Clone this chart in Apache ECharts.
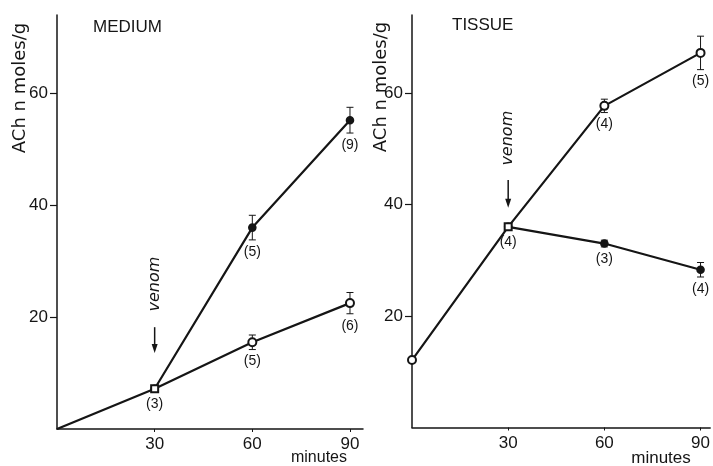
<!DOCTYPE html>
<html>
<head>
<meta charset="utf-8">
<script src="https://cdn.jsdelivr.net/npm/echarts@6.0.0/dist/echarts.min.js"></script>
<style>
html,body{margin:0;padding:0;background:#fff;}
#chart{width:713px;height:466px;}
</style>
</head>
<body>
<div id="chart"></div>
<script>
// ---- data ----
const minutes = [0, 30, 60, 90];
const venomMinutes = [30, 60, 90];
const xTicks = [30, 60, 90];
const yTicks = [20, 40, 60];

// MEDIUM panel
const mediumControl = [0, 7.2, 15.5, 22.5];
const mediumControlErr = [0, 0, 1.3, 1.9];
const mediumControlN = [null, 3, 5, 6];
const mediumVenom = [7.2, 36.0, 55.2];
const mediumVenomErr = [0, 2.2, 2.3];
const mediumVenomN = [null, 5, 9];

// TISSUE panel
const tissueControl = [12.1, 36.0, 57.7, 67.2];
const tissueControlErr = [0, 0, 1.2, 3.0];
const tissueControlN = [null, 4, 4, 5];
const tissueVenom = [36.0, 33.0, 28.3];
const tissueVenomErr = [0, 0.6, 1.3];
const tissueVenomN = [null, 3, 4];

const INK = '#151515';
const FONT = 'Liberation Sans';
const NAMEFONT = 'DejaVu Sans';

const chart = echarts.init(document.getElementById('chart'), null, {renderer: 'canvas'});

function lineData(xs, ys, firstSymbol) {
  return xs.map((x, i) => {
    const item = {value: [x, ys[i]]};
    if (i === 0 && firstSymbol) item.symbol = firstSymbol;
    return item;
  });
}
function errData(xs, ys, errs) {
  const out = [];
  xs.forEach((x, i) => { if (errs[i] > 0) out.push([x, ys[i] - errs[i], ys[i] + errs[i]]); });
  return out;
}
function countData(xs, ys, errs, ns) {
  const out = [];
  xs.forEach((x, i) => { if (ns[i] != null) out.push([x, ys[i] - errs[i], ns[i], errs[i] > 0 ? 1 : 0]); });
  return out;
}

function errSeries(idx, data) {
  return {
    type: 'custom', xAxisIndex: idx, yAxisIndex: idx, z: 3,
    encode: {x: 0, y: [1, 2]},
    data: data,
    renderItem(params, api) {
      const x = api.value(0), lo = api.value(1), hi = api.value(2);
      const a = api.coord([x, hi]), b = api.coord([x, lo]);
      const w = 3.5;
      const st = {stroke: INK, lineWidth: 1};
      return {type: 'group', children: [
        {type: 'line', shape: {x1: a[0], y1: a[1], x2: b[0], y2: b[1]}, style: st},
        {type: 'line', shape: {x1: a[0] - w, y1: a[1], x2: a[0] + w, y2: a[1]}, style: st},
        {type: 'line', shape: {x1: b[0] - w, y1: b[1], x2: b[0] + w, y2: b[1]}, style: st}
      ]};
    }
  };
}
function countSeries(idx, data) {
  return {
    type: 'custom', xAxisIndex: idx, yAxisIndex: idx, z: 4,
    encode: {x: 0, y: 1},
    data: data,
    renderItem(params, api) {
      const p = api.coord([api.value(0), api.value(1)]);
      const gap = api.value(3) ? 12 : 15;
      return {type: 'text', x: p[0], y: p[1] + gap,
        style: {text: '(' + api.value(2) + ')', fill: INK, font: '14px ' + FONT,
          align: 'center', verticalAlign: 'middle'}};
    }
  };
}
function lineSeries(idx, data, filled) {
  return {
    type: 'line', xAxisIndex: idx, yAxisIndex: idx, z: filled ? 2 : 5,
    data: data,
    symbol: filled ? 'circle' : 'emptyCircle',
    symbolSize: filled ? 7 : 8,
    showAllSymbol: true,
    lineStyle: {color: INK, width: 2.2},
    itemStyle: {color: INK, borderColor: INK, borderWidth: 1.6},
    emphasis: {disabled: true},
    animation: false
  };
}

function xAxis(idx, max) {
  return {
    type: 'value', gridIndex: idx, min: 0, max: max,
    axisLine: {show: true, lineStyle: {color: INK, width: 1.5}},
    axisTick: {show: true, customValues: xTicks, length: 3, lineStyle: {color: INK, width: 1}},
    axisLabel: {customValues: xTicks, color: INK, fontFamily: FONT, fontSize: 17, margin: 7},
    splitLine: {show: false}
  };
}
function yAxis(idx) {
  return {
    type: 'value', gridIndex: idx, min: 0, max: 74,
    axisLine: {show: true, onZero: false, lineStyle: {color: INK, width: 1.5}},
    axisTick: {show: true, customValues: yTicks, length: 7, lineStyle: {color: INK, width: 1.2}},
    axisLabel: {customValues: yTicks, color: INK, fontFamily: FONT, fontSize: 17, margin: 9},
    splitLine: {show: false}
  };
}

const mediumControlData = lineData(minutes, mediumControl, 'none');
mediumControlData[1].symbol = 'emptyRect';
mediumControlData[1].symbolSize = 7;
const tissueControlData = lineData(minutes, tissueControl, null);
tissueControlData[1].symbol = 'emptyRect';
tissueControlData[1].symbolSize = 7;

const option = {
  backgroundColor: '#fff',
  animation: false,
  grid: [
    {left: 57, top: 15, width: 306, height: 414},
    {left: 412, top: 15, width: 302, height: 412.5}
  ],
  xAxis: [xAxis(0, 94), xAxis(1, 93)],
  yAxis: [yAxis(0), yAxis(1)],
  series: [
    lineSeries(0, lineData(venomMinutes, mediumVenom, null), true),
    lineSeries(0, mediumControlData, false),
    errSeries(0, errData(venomMinutes, mediumVenom, mediumVenomErr)),
    errSeries(0, errData(minutes, mediumControl, mediumControlErr)),
    countSeries(0, countData(venomMinutes, mediumVenom, mediumVenomErr, mediumVenomN)),
    countSeries(0, countData(minutes, mediumControl, mediumControlErr, mediumControlN)),

    lineSeries(1, lineData(venomMinutes, tissueVenom, null), true),
    lineSeries(1, tissueControlData, false),
    errSeries(1, errData(venomMinutes, tissueVenom, tissueVenomErr)),
    errSeries(1, errData(minutes, tissueControl, tissueControlErr)),
    countSeries(1, countData(venomMinutes, tissueVenom, tissueVenomErr, tissueVenomN)),
    countSeries(1, countData(minutes, tissueControl, tissueControlErr, tissueControlN))
  ]
};
chart.setOption(option);

// ---- annotations (titles, axis names, venom arrows) ----
function px(grid, x, y) { return chart.convertToPixel({gridIndex: grid}, [x, y]); }
function venomGraphics(grid, textY, tailY, tipY) {
  const t = px(grid, 30, textY), a = px(grid, 30, tailY), b = px(grid, 30, tipY);
  return [
    {type: 'text', x: t[0], y: t[1], rotation: Math.PI / 2,
      style: {text: 'venom', font: 'italic 16px ' + NAMEFONT, fill: INK, align: 'center', verticalAlign: 'middle'}},
    {type: 'line', shape: {x1: a[0], y1: a[1], x2: b[0], y2: b[1] - 6}, style: {stroke: INK, lineWidth: 1.5}},
    {type: 'polygon', shape: {points: [[b[0] - 3, b[1] - 9], [b[0] + 3, b[1] - 9], [b[0], b[1]]]}, style: {fill: INK}}
  ];
}
const g = [
  {type: 'text', x: 93, y: 27, style: {text: 'MEDIUM', font: '17px ' + FONT, fill: INK, align: 'left', verticalAlign: 'middle'}},
  {type: 'text', x: 452, y: 25, style: {text: 'TISSUE', font: '17px ' + FONT, fill: INK, align: 'left', verticalAlign: 'middle'}},
  {type: 'text', x: 20, y: 88, rotation: Math.PI / 2, style: {text: 'ACh n moles/g', font: '18px ' + NAMEFONT, fill: INK, align: 'center', verticalAlign: 'middle'}},
  {type: 'text', x: 381, y: 87, rotation: Math.PI / 2, style: {text: 'ACh n moles/g', font: '18px ' + NAMEFONT, fill: INK, align: 'center', verticalAlign: 'middle'}},
  {type: 'text', x: 319, y: 458, style: {text: 'minutes', font: '16px ' + FONT, fill: INK, align: 'center', verticalAlign: 'middle'}},
  {type: 'text', x: 661, y: 458, style: {text: 'minutes', font: '17px ' + FONT, fill: INK, align: 'center', verticalAlign: 'middle'}}
].concat(venomGraphics(0, 25.9, 18.2, 13.6), venomGraphics(1, 51.9, 44.4, 39.4));
chart.setOption({graphic: g});
</script>
</body>
</html>
